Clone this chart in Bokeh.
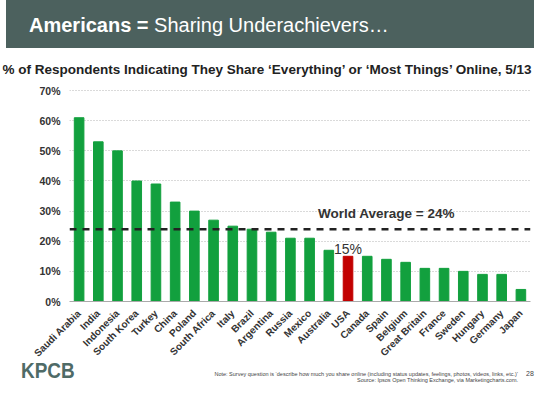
from bokeh.plotting import figure
from bokeh.models import Range1d, FixedTicker, PrintfTickFormatter, Span, ColumnDataSource, Div
from bokeh.layouts import column
from bokeh.core.properties import value
from bokeh.embed import file_html
from bokeh.resources import INLINE
import math

# ---- data ----
countries = ["Saudi Arabia", "India", "Indonesia", "South Korea", "Turkey", "China",
             "Poland", "South Africa", "Italy", "Brazil", "Argentina", "Russia",
             "Mexico", "Australia", "USA", "Canada", "Spain", "Belgium",
             "Great Britain", "France", "Sweden", "Hungary", "Germany", "Japan"]
share_pct = [61, 53, 50, 40, 39, 33, 30, 27, 25, 24, 23, 21,
             21, 17, 15, 15, 14, 13, 11, 11, 10, 9, 9, 4]
world_avg = 24
highlight = "USA"
y_ticks = [0, 10, 20, 30, 40, 50, 60, 70]

title_bold = "Americans ="
title_rest = "Sharing Underachievers\u2026"
subtitle = "% of Respondents Indicating They Share \u2018Everything\u2019 or \u2018Most Things\u2019 Online, 5/13"
note = "Note: Survey question is \u2018describe how much you share online (including status updates, feelings, photos, videos, links, etc.)\u2019"
source = "Source: Ipsos Open Thinking Exchange, via Marketingcharts.com."
page_no = "28"
logo = "KPCB"

FONT = "Liberation Sans"
GREEN = "#12a03e"
RED = "#c20000"
BAND = "#4c615e"
TXT = "#333333"
W = 534

# ---- header: band + subtitle (HTML text) ----
head_html = f"""
<div style="position:relative;width:{W}px;height:80px;overflow:hidden;font-family:'{FONT}',Arial,sans-serif;">
  <div style="position:absolute;left:6px;top:0;width:{W-6}px;height:48px;background:{BAND};"></div>
  <div style="position:absolute;left:29px;top:15px;font-size:20px;line-height:20px;color:white;white-space:nowrap;">
    <b>{title_bold}</b> {title_rest}</div>
  <div style="position:absolute;left:0;top:62px;width:{W}px;text-align:center;font-size:13.5px;line-height:15px;
              font-weight:bold;color:#222;white-space:nowrap;">{subtitle}</div>
</div>
"""
head = Div(text=head_html, width=W, height=80, margin=0)

# ---- main chart ----
colors = [RED if c == highlight else GREEN for c in countries]
src = ColumnDataSource(dict(country=countries, pct=share_pct, color=colors))

p = figure(width=W, height=285, toolbar_location=None, output_backend="svg",
           x_range=countries, y_range=Range1d(0, 70.7),
           min_border_left=69, min_border_right=4, min_border_top=8, min_border_bottom=64,
           outline_line_color=None, background_fill_color="white")

p.vbar(x="country", top="pct", width=0.5, color="color", source=src)

p.add_layout(Span(location=world_avg, dimension="width", line_color="#222222",
                  line_width=2.6, line_dash="7 6"))

p.text(x=["Spain"], y=[world_avg], text=[f"World Average = {world_avg}%"],
       text_font=value(FONT), text_font_style="bold", text_font_size="13.5px",
       text_color=TXT, text_align="center", text_baseline="alphabetic", y_offset=-16)

usa_val = share_pct[countries.index(highlight)]
p.text(x=[highlight], y=[usa_val], text=[f"{usa_val}%"],
       text_font=value(FONT), text_font_size="14px",
       text_color=TXT, text_align="center", text_baseline="alphabetic", y_offset=-7)

p.yaxis.ticker = FixedTicker(ticks=y_ticks)
p.yaxis.formatter = PrintfTickFormatter(format="%d%%")
p.yaxis.axis_line_color = None
p.yaxis.major_tick_line_color = None
p.yaxis.minor_tick_line_color = None
p.yaxis.major_label_standoff = 3
p.yaxis.major_label_text_font = FONT
p.yaxis.major_label_text_font_style = "bold"
p.yaxis.major_label_text_font_size = "10.5px"
p.yaxis.major_label_text_color = TXT

p.xaxis.axis_line_color = "#aaaaaa"
p.xaxis.major_tick_line_color = None
p.xaxis.major_label_orientation = math.pi / 4
p.xaxis.major_label_standoff = 4
p.xaxis.major_label_text_font = FONT
p.xaxis.major_label_text_font_style = "bold"
p.xaxis.major_label_text_font_size = "10px"
p.xaxis.major_label_text_color = TXT

p.xgrid.visible = False
p.ygrid.grid_line_color = "#b5b5b5"
p.ygrid.grid_line_dash = "1 2"
p.ygrid.grid_line_width = 1

# ---- footer (HTML text), slightly overlapping the empty bottom strip of the chart ----
foot_html = f"""
<div style="position:relative;width:{W}px;height:24px;font-family:'{FONT}',Arial,sans-serif;color:#444;">
  <div style="position:absolute;left:21px;top:0;font-weight:bold;font-size:22px;line-height:24px;color:#4f6b67;
              transform:scaleX(0.86);transform-origin:left center;white-space:nowrap;">{logo}</div>
  <div style="position:absolute;right:{W-518}px;top:12px;font-size:5.5px;line-height:6px;white-space:nowrap;text-align:right;">{note}</div>
  <div style="position:absolute;right:{W-518}px;top:18px;font-size:5.5px;line-height:6px;white-space:nowrap;text-align:right;">{source}</div>
  <div style="position:absolute;left:526px;top:11px;font-size:7px;line-height:8px;white-space:nowrap;">{page_no}</div>
</div>
"""
foot = Div(text=foot_html, width=W, height=24, margin=(-6, 0, 0, 0))

layout = column(head, p, foot, spacing=0)
open("out.html", "w").write(file_html(layout, INLINE))
